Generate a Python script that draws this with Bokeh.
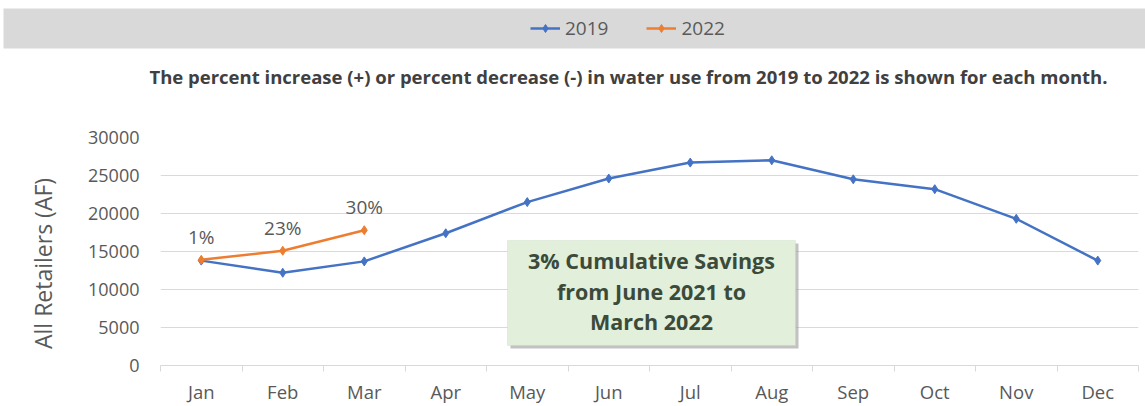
from bokeh.plotting import figure
from bokeh.layouts import column
from bokeh.models import (Range1d, LinearAxis, FixedTicker,
                          Label, BoxAnnotation, Legend, LegendItem, ColumnDataSource)
from bokeh.core.properties import value
from bokeh.embed import file_html
from bokeh.resources import INLINE

# ---- data ----
months = ["Jan", "Feb", "Mar", "Apr", "May", "Jun", "Jul", "Aug", "Sep", "Oct", "Nov", "Dec"]
use_2019 = [13800, 12200, 13700, 17400, 21500, 24600, 26700, 27000, 24500, 23200, 19300, 13800]
months_2022 = ["Jan", "Feb", "Mar"]
use_2022 = [13900, 15100, 17800]
pct_2022 = ["1%", "23%", "30%"]
y_ticks = [0, 5000, 10000, 15000, 20000, 25000, 30000]
series_names = ["2019", "2022"]
subtitle = "The percent increase (+) or percent decrease (-) in water use from 2019 to 2022 is shown for each month."
note_lines = ["3% Cumulative Savings", "from June 2021 to", "March 2022"]
y_label = "All Retailers (AF)"

BLUE = "#4472c4"
ORANGE = "#ed7d31"
GRAY_TXT = "#595959"
FONT = "Open Sans"

# month positions on a numeric axis (1..12), derived from the category list
pos = {m: i + 1 for i, m in enumerate(months)}
x19 = [pos[m] for m in months]
x22 = [pos[m] for m in months_2022]

W, H = 1145, 406
TOP_H = 110                      # header strip (legend band + subtitle)
MAIN_H = H - TOP_H
FRAME_TOP, FRAME_BOTTOM = 137, 367   # in page pixels
F_TOP = FRAME_TOP - TOP_H
F_BOT = FRAME_BOTTOM - TOP_H

# ---------------- header figure ----------------
top = figure(width=W, height=TOP_H, x_range=Range1d(0, W), y_range=Range1d(0, TOP_H),
             output_backend="svg", toolbar_location=None,
             x_axis_location=None, y_axis_location=None,
             min_border=0, min_border_left=0, min_border_right=0, min_border_top=0, min_border_bottom=0)
top.frame_align = False
top.outline_line_color = None
top.xgrid.visible = False
top.ygrid.visible = False

band = BoxAnnotation(left=3, right=W, top=8, bottom=48,
                     left_units="canvas", right_units="canvas", top_units="canvas", bottom_units="canvas",
                     fill_color="#d9d9d9", fill_alpha=1, line_color=None)
top.add_layout(band)

# legend-only renderers (no visible data)
nan_src = ColumnDataSource(dict(x=[float("nan")], y=[float("nan")]))
tl19 = top.line("x", "y", source=nan_src, line_color=BLUE, line_width=2.5)
tm19 = top.scatter("x", "y", source=nan_src, marker="diamond", size=9, color=BLUE)
tl22 = top.line("x", "y", source=nan_src, line_color=ORANGE, line_width=2.5)
tm22 = top.scatter("x", "y", source=nan_src, marker="diamond", size=9, color=ORANGE)

legend = Legend(items=[LegendItem(label=series_names[0], renderers=[tl19, tm19]),
                       LegendItem(label=series_names[1], renderers=[tl22, tm22])],
                orientation="horizontal", location=(530, TOP_H - 41),
                background_fill_alpha=0, border_line_color=None, padding=3, margin=0,
                label_text_font=FONT, label_text_font_size="19px", label_text_color=GRAY_TXT,
                glyph_width=30, glyph_height=20, spacing=38, label_standoff=5)
top.add_layout(legend)

top.add_layout(Label(x=628, y=TOP_H - 76, x_units="screen", y_units="screen", text=subtitle,
                     text_font=FONT, text_font_size="18.5px", text_font_style="bold",
                     text_color="#404040", text_align="center", text_baseline="middle"))

# ---------------- main chart ----------------
p = figure(width=W, height=MAIN_H, x_range=Range1d(0.5, len(months) + 0.5),
           y_range=Range1d(0, 30000), output_backend="svg", toolbar_location=None,
           x_axis_location=None, y_axis_location=None,
           min_border_left=160, min_border_right=7, min_border_top=F_TOP, min_border_bottom=MAIN_H - F_BOT)
p.frame_align = False
p.outline_line_color = None
p.background_fill_color = "white"
p.border_fill_color = "white"

ya = LinearAxis(ticker=FixedTicker(ticks=y_ticks), axis_label=y_label + "\u00a0" * 4)
ya.axis_line_color = None
ya.major_tick_line_color = None
ya.minor_tick_line_color = None
ya.major_label_text_font = FONT
ya.major_label_text_font_size = "18px"
ya.major_label_text_color = GRAY_TXT
ya.major_label_standoff = 15
ya.axis_label_text_font = FONT
ya.axis_label_text_font_size = "23px"
ya.axis_label_text_font_style = "normal"
ya.axis_label_text_color = GRAY_TXT
ya.axis_label_standoff = 26
p.add_layout(ya, "left")

# x axis: month labels at centres, minor ticks at month boundaries
xa = LinearAxis(ticker=FixedTicker(ticks=x19, minor_ticks=[v - 0.5 for v in x19] + [x19[-1] + 0.5]),
                major_label_overrides={pos[m]: m for m in months})
xa.axis_line_color = "#d9d9d9"
xa.major_tick_line_color = None
xa.major_tick_out = 6
xa.major_tick_in = 0
xa.minor_tick_line_color = "#d9d9d9"
xa.minor_tick_out = 6
xa.minor_tick_in = 0
xa.major_label_text_font = FONT
xa.major_label_text_font_size = "18.5px"
xa.major_label_text_color = GRAY_TXT
xa.major_label_standoff = 7
p.add_layout(xa, "below")

p.xgrid.grid_line_color = None
p.ygrid.grid_line_color = "#d9d9d9"
p.ygrid.ticker = FixedTicker(ticks=y_ticks)

src19 = ColumnDataSource(dict(x=x19, y=use_2019))
src22 = ColumnDataSource(dict(x=x22, y=use_2022, t=pct_2022))

p.line("x", "y", source=src19, line_color=BLUE, line_width=2.5)
p.scatter("x", "y", source=src19, marker="diamond", size=9, color=BLUE)
p.line("x", "y", source=src22, line_color=ORANGE, line_width=2.5)
p.scatter("x", "y", source=src22, marker="diamond", size=9, color=ORANGE)

p.text("x", "y", text="t", source=src22, text_font=value(FONT), text_font_size="19px",
       text_color=GRAY_TXT, text_align="center", text_baseline="middle", y_offset=-23)

# note box (page pixels -> this figure's canvas)
shadow = BoxAnnotation(left=510, right=798, top=243 - TOP_H, bottom=348 - TOP_H,
                       left_units="canvas", right_units="canvas", top_units="canvas", bottom_units="canvas",
                       fill_color="#9a9a9a", fill_alpha=0.6, line_color=None)
box = BoxAnnotation(left=507, right=795, top=240 - TOP_H, bottom=345 - TOP_H,
                    left_units="canvas", right_units="canvas", top_units="canvas", bottom_units="canvas",
                    fill_color="#e2efda", fill_alpha=1, line_color="#c5d3bb", line_width=1)
p.add_layout(shadow)
p.add_layout(box)
for i, t in enumerate(note_lines):
    page_y = 262 + 30.5 * i
    p.add_layout(Label(x=651 - 160, y=FRAME_BOTTOM - page_y, x_units="screen", y_units="screen", text=t,
                       text_font=FONT, text_font_size="21.5px", text_font_style="bold",
                       text_color="#3b4a39", text_align="center", text_baseline="middle"))

layout = column(top, p, spacing=0)
open("out.html", "w").write(file_html(layout, INLINE))
